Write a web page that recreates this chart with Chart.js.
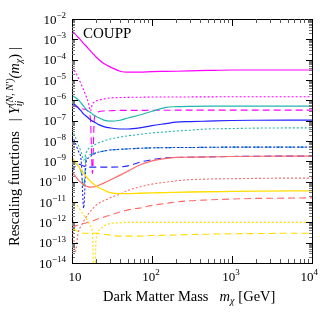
<!DOCTYPE html>
<html>
<head>
<meta charset="utf-8">
<script src="https://cdn.jsdelivr.net/npm/chart.js@4"></script>
<style>
  html, body { margin: 0; padding: 0; background: #fff; }
  canvas { display: block; }
</style>
</head>
<body>
<canvas id="chart" width="320" height="314"></canvas>
<script>
// dark matter mass grid (GeV)
var mass = [10, 11, 12, 13, 14, 15, 16, 17, 18, 19, 20, 22, 25, 30, 40, 50, 70, 100, 150, 200, 300, 500, 1000, 2000, 5000, 10000];

// rescaling functions
var magentaSolid = [2.6e-3, 1.8e-3, 1.23e-3, 8.7e-4, 6.2e-4, 4.7e-4, 3.5e-4, 2.7e-4, 2.1e-4, 1.7e-4, 1.35e-4, 9.6e-5, 6.4e-5, 4.4e-5, 2.7e-5, 2.45e-5, 2.45e-5, 2.6e-5, 2.65e-5, 2.7e-5, 2.8e-5, 2.95e-5, 3.1e-5, 3.1e-5, 3.1e-5, 3.1e-5];
var magentaDotted = [4.4e-5, 2.5e-5, 1.26e-5, 6.3e-6, 3.2e-6, 1.6e-6, 8e-7, 3e-7, 6.6e-7, 8.2e-7, 9.3e-7, 1.05e-6, 1.17e-6, 1.3e-6, 1.37e-6, 1.4e-6, 1.42e-6, 1.45e-6, 1.45e-6, 1.45e-6, 1.47e-6, 1.48e-6, 1.5e-6, 1.5e-6, 1.5e-6, 1.5e-6];
var magentaDashed = [6e-7, 5e-7, 4.5e-7, 4e-7, 3.7e-7, 3.4e-7, 2.8e-7, 1.2e-7, 2.5e-10, 1.2e-7, 2.2e-7, 2.8e-7, 3.0e-7, 3.1e-7, 3.2e-7, 3.2e-7, 3.2e-7, 3.25e-7, 3.25e-7, 3.3e-7, 3.3e-7, 3.3e-7, 3.3e-7, 3.3e-7, 3.3e-7, 3.3e-7];
var tealSolid = [1.8e-6, 1.38e-6, 1.05e-6, 7.4e-7, 5.2e-7, 3.7e-7, 2.95e-7, 2.5e-7, 2.1e-7, 1.8e-7, 1.6e-7, 1.35e-7, 1.07e-7, 9.5e-8, 1.05e-7, 1.35e-7, 1.9e-7, 2.9e-7, 4.5e-7, 4.9e-7, 5.1e-7, 5.2e-7, 5.2e-7, 5.2e-7, 5.2e-7, 5.2e-7];
var tealDotted = [3.5e-8, 1.6e-8, 6.3e-9, 2.9e-9, 1.15e-9, 2.6e-9, 4.1e-9, 5e-9, 5.7e-9, 6.4e-9, 7.1e-9, 8.5e-9, 1e-8, 1.26e-8, 1.55e-8, 1.8e-8, 2.1e-8, 2.5e-8, 2.8e-8, 3.1e-8, 3.4e-8, 3.9e-8, 4.1e-8, 4.3e-8, 4.4e-8, 4.4e-8];
var tealDashed = [6.6e-10, 8.3e-10, 5.9e-10, 3e-10, 5e-11, 1.6e-9, 2.0e-9, 2.15e-9, 2.3e-9, 2.5e-9, 2.7e-9, 2.9e-9, 3.2e-9, 3.6e-9, 3.9e-9, 4.1e-9, 4.4e-9, 4.6e-9, 4.7e-9, 4.8e-9, 4.8e-9, 4.9e-9, 5.0e-9, 5.0e-9, 5.0e-9, 5.0e-9];
var blueSolid = [7.4e-7, 5.9e-7, 4.2e-7, 3.0e-7, 2.1e-7, 1.7e-7, 1.35e-7, 1.12e-7, 9.5e-8, 8.5e-8, 7.6e-8, 6.2e-8, 5.1e-8, 4.4e-8, 3.9e-8, 3.9e-8, 4.4e-8, 5.7e-8, 7.2e-8, 8.5e-8, 9.0e-8, 9.5e-8, 1.02e-7, 1.05e-7, 1.07e-7, 1.07e-7];
var blueDotted = [1.8e-8, 8e-9, 3.2e-9, 1.15e-9, 5e-12, 9.3e-10, 1.45e-9, 1.75e-9, 2e-9, 2.3e-9, 2.6e-9, 2.9e-9, 3.2e-9, 3.6e-9, 3.9e-9, 4.1e-9, 4.4e-9, 4.6e-9, 4.7e-9, 4.8e-9, 4.8e-9, 4.9e-9, 5.0e-9, 5.0e-9, 5.0e-9, 5.0e-9];
var blueDashed = [3e-10, 5.9e-10, 7.4e-10, 6.6e-10, 5.9e-10, 5.4e-10, 5.2e-10, 5.2e-10, 5.2e-10, 5.2e-10, 5.2e-10, 5.2e-10, 5.2e-10, 5.2e-10, 5.3e-10, 6.0e-10, 9.0e-10, 1.2e-9, 1.5e-9, 1.55e-9, 1.6e-9, 1.65e-9, 1.73e-9, 1.78e-9, 1.8e-9, 1.8e-9];
var redSolid = [3e-10, 1.9e-10, 1.2e-10, 9.1e-11, 7.2e-11, 6.1e-11, 5.5e-11, 5.4e-11, 5.5e-11, 5.6e-11, 5.8e-11, 6.8e-11, 8.5e-11, 1.2e-10, 2.1e-10, 3.3e-10, 6.6e-10, 1.05e-9, 1.4e-9, 1.55e-9, 1.6e-9, 1.65e-9, 1.73e-9, 1.78e-9, 1.8e-9, 1.8e-9];
var redDotted = [5e-12, 3.5e-14, 3.3e-13, 6.6e-13, 1.15e-12, 1.8e-12, 2.6e-12, 3.5e-12, 4.5e-12, 5.7e-12, 7e-12, 9e-12, 1.15e-11, 1.6e-11, 2.5e-11, 3.7e-11, 5.5e-11, 7.6e-11, 9.5e-11, 1.1e-10, 1.25e-10, 1.35e-10, 1.4e-10, 1.45e-10, 1.5e-10, 1.5e-10];
var redDashed = [5.2e-13, 6.6e-13, 7.4e-13, 8.3e-13, 8.8e-13, 9.3e-13, 1.03e-12, 1.1e-12, 1.15e-12, 1.25e-12, 1.38e-12, 1.55e-12, 1.8e-12, 2.3e-12, 3.2e-12, 4.1e-12, 5e-12, 6.8e-12, 8.5e-12, 1e-11, 1.15e-11, 1.26e-11, 1.4e-11, 1.5e-11, 1.55e-11, 1.6e-11];
var yellowSolid = [1.6e-9, 9.3e-10, 5.9e-10, 3.7e-10, 2.5e-10, 1.8e-10, 1.35e-10, 1.05e-10, 8.5e-11, 7.2e-11, 6.1e-11, 4.9e-11, 3.9e-11, 2.9e-11, 2.6e-11, 2.6e-11, 2.7e-11, 2.8e-11, 2.9e-11, 3.0e-11, 3.1e-11, 3.2e-11, 3.3e-11, 3.4e-11, 3.5e-11, 3.5e-11];
var yellowDotted = [1.4e-11, 8.9e-12, 5.6e-12, 3.6e-12, 2.3e-12, 1.6e-12, 1.0e-12, 6.6e-13, 3.3e-13, 1e-16, 1.35e-13, 4.2e-13, 6.6e-13, 8.7e-13, 9.6e-13, 1e-12, 1e-12, 1e-12, 1e-12, 1e-12, 1e-12, 1e-12, 1e-12, 1e-12, 1e-12, 1e-12];
var yellowDashed = [5.2e-13, 4.2e-13, 3.5e-13, 3.1e-13, 2.9e-13, 2.9e-13, 2.9e-13, 2.9e-13, 2.9e-13, 2.9e-13, 2.9e-13, 2.8e-13, 2.6e-13, 2.4e-13, 2.1e-13, 2.1e-13, 2.1e-13, 2.25e-13, 2.3e-13, 2.4e-13, 2.5e-13, 2.6e-13, 2.75e-13, 2.8e-13, 2.9e-13, 2.9e-13];

// axis decades
var xDecades = [1, 2, 3, 4];
var yDecades = [-14, -13, -12, -11, -10, -9, -8, -7, -6, -5, -4, -3, -2];

var MAGENTA = '#ff00ff', TEAL = '#22b5ad', BLUE = '#2323ff', RED = '#ff6a6a', YELLOW = '#ffdd00';
var DASH = [7, 4], DOT = [2, 2];

function series(vals, color, dash, width) {
  return {
    data: mass.map(function(m, i) { return {x: m, y: vals[i]}; }),
    borderColor: color,
    borderWidth: width || 1.1,
    borderDash: dash || [],
    pointRadius: 0,
    fill: false,
    cubicInterpolationMode: 'monotone'
  };
}

var serif = '"Liberation Serif", "DejaVu Serif", serif';

function runs(ctx, x, y, parts) {
  // draws text runs left to right, returns end x
  parts.forEach(function(p) {
    ctx.font = p.f;
    ctx.fillText(p.t, x, y + (p.dy || 0));
    x += ctx.measureText(p.t).width + (p.gap || 0);
  });
  return x;
}

var frame = {
  id: 'frame',
  afterDraw: function(chart) {
    var ctx = chart.ctx, a = chart.chartArea;
    var xs = chart.scales.x, ys = chart.scales.y;
    ctx.save();
    ctx.strokeStyle = '#000';
    ctx.lineWidth = 1;
    ctx.strokeRect(Math.round(a.left) + 0.5, Math.round(a.top) + 0.5, Math.round(a.right - a.left), Math.round(a.bottom - a.top));

    // y ticks, both sides
    yDecades.forEach(function(e) {
      for (var d = 1; d <= 9; d++) {
        var v = d * Math.pow(10, e);
        if (v > 1.0001e-2) break;
        var py = Math.round(ys.getPixelForValue(v)) + 0.5;
        var len = d === 1 ? 6 : 3;
        ctx.strokeStyle = d === 1 ? '#000' : '#777';
        ctx.beginPath();
        ctx.moveTo(a.left, py); ctx.lineTo(a.left + len, py);
        ctx.moveTo(a.right, py); ctx.lineTo(a.right - len, py);
        ctx.stroke();
      }
    });
    // x ticks, top and bottom
    xDecades.forEach(function(e) {
      for (var d = 1; d <= 9; d++) {
        var v = d * Math.pow(10, e);
        if (v > 10001) break;
        var px = Math.round(xs.getPixelForValue(v)) + 0.5;
        var len = d === 1 ? 7 : 4;
        ctx.strokeStyle = d === 1 ? '#000' : '#555';
        ctx.beginPath();
        ctx.moveTo(px, a.bottom); ctx.lineTo(px, a.bottom - len);
        ctx.moveTo(px, a.top); ctx.lineTo(px, a.top + len);
        ctx.stroke();
      }
    });

    ctx.fillStyle = '#000';
    ctx.textBaseline = 'alphabetic';
    // y tick labels
    yDecades.forEach(function(e) {
      var py = ys.getPixelForValue(Math.pow(10, e));
      var sup = '\u2212' + (-e);
      ctx.font = '9px ' + serif;
      var sw = ctx.measureText(sup).width;
      ctx.textAlign = 'right';
      ctx.fillText(sup, 66, py - 1);
      ctx.font = '13px ' + serif;
      ctx.fillText('10', 66 - sw, py + 4.5);
    });
    // x tick labels
    ctx.textAlign = 'left';
    xDecades.forEach(function(e) {
      var px = xs.getPixelForValue(Math.pow(10, e));
      ctx.font = '13px ' + serif;
      var w = ctx.measureText('10').width;
      ctx.font = '9px ' + serif;
      var sw = e > 1 ? ctx.measureText(String(e)).width : 0;
      var x0;
      if (e === 1) x0 = px + 3 - w / 2;
      else if (e === 4) x0 = 318 - w - sw;
      else x0 = px - 1 - (w + sw) / 2;
      ctx.font = '13px ' + serif;
      ctx.fillText('10', x0, 281);
      if (e > 1) {
        ctx.font = '9px ' + serif;
        ctx.fillText(String(e), x0 + w, 275);
      }
    });

    // x title
    var f14 = '14.5px ' + serif, f14i = 'italic 14.5px ' + serif, f10i = 'italic 10px ' + serif;
    runs(ctx, 103, 301, [
      {t: 'Dark Matter Mass', f: f14, gap: 11},
      {t: 'm', f: f14i},
      {t: '\u03c7', f: f10i, dy: 3, gap: 4},
      {t: '[GeV]', f: f14}
    ]);

    // y title, rotated
    ctx.save();
    ctx.translate(19, 246);
    ctx.rotate(-Math.PI / 2);
    runs(ctx, 0, 0, [
      {t: 'Rescaling functions', f: f14, gap: 10},
      {t: '|', f: f14, gap: 4},
      {t: 'Y', f: f14i, gap: 0},
      {t: 'ij', f: f10i, dy: 3, gap: -5},
      {t: '(N, N\u2032)', f: f10i, dy: -6, gap: 0},
      {t: '(m', f: f14i},
      {t: '\u03c7', f: f10i, dy: 3},
      {t: ')', f: f14, gap: 4},
      {t: '|', f: f14}
    ]);
    ctx.restore();

    // experiment label
    ctx.font = '15px ' + serif;
    ctx.fillText('COUPP', 83, 38);
    ctx.restore();
  }
};

new Chart(document.getElementById('chart'), {
  type: 'line',
  data: {
    datasets: [
      series(yellowDashed, YELLOW, DASH),
      series(yellowDotted, YELLOW, DOT),
      series(yellowSolid, YELLOW, [], 1.3),
      series(redDashed, RED, DASH),
      series(redDotted, RED, DOT),
      series(redSolid, RED, [], 1.2),
      series(blueDashed, BLUE, DASH),
      series(blueDotted, BLUE, DOT),
      series(blueSolid, BLUE, [], 1.2),
      series(tealDashed, TEAL, DASH),
      series(tealDotted, TEAL, DOT),
      series(tealSolid, TEAL, [], 1.2),
      series(magentaDashed, MAGENTA, DASH),
      series(magentaDotted, MAGENTA, DOT),
      series(magentaSolid, MAGENTA, [], 1.2)
    ]
  },
  options: {
    responsive: false,
    animation: false,
    devicePixelRatio: 1,
    layout: { padding: { left: 72, top: 19, right: 8, bottom: 51 } },
    plugins: { legend: { display: false }, tooltip: { enabled: false } },
    scales: {
      x: { type: 'logarithmic', min: 10, max: 10000, display: false },
      y: { type: 'logarithmic', min: 1e-14, max: 1e-2, display: false }
    }
  },
  plugins: [frame]
});
</script>
</body>
</html>
